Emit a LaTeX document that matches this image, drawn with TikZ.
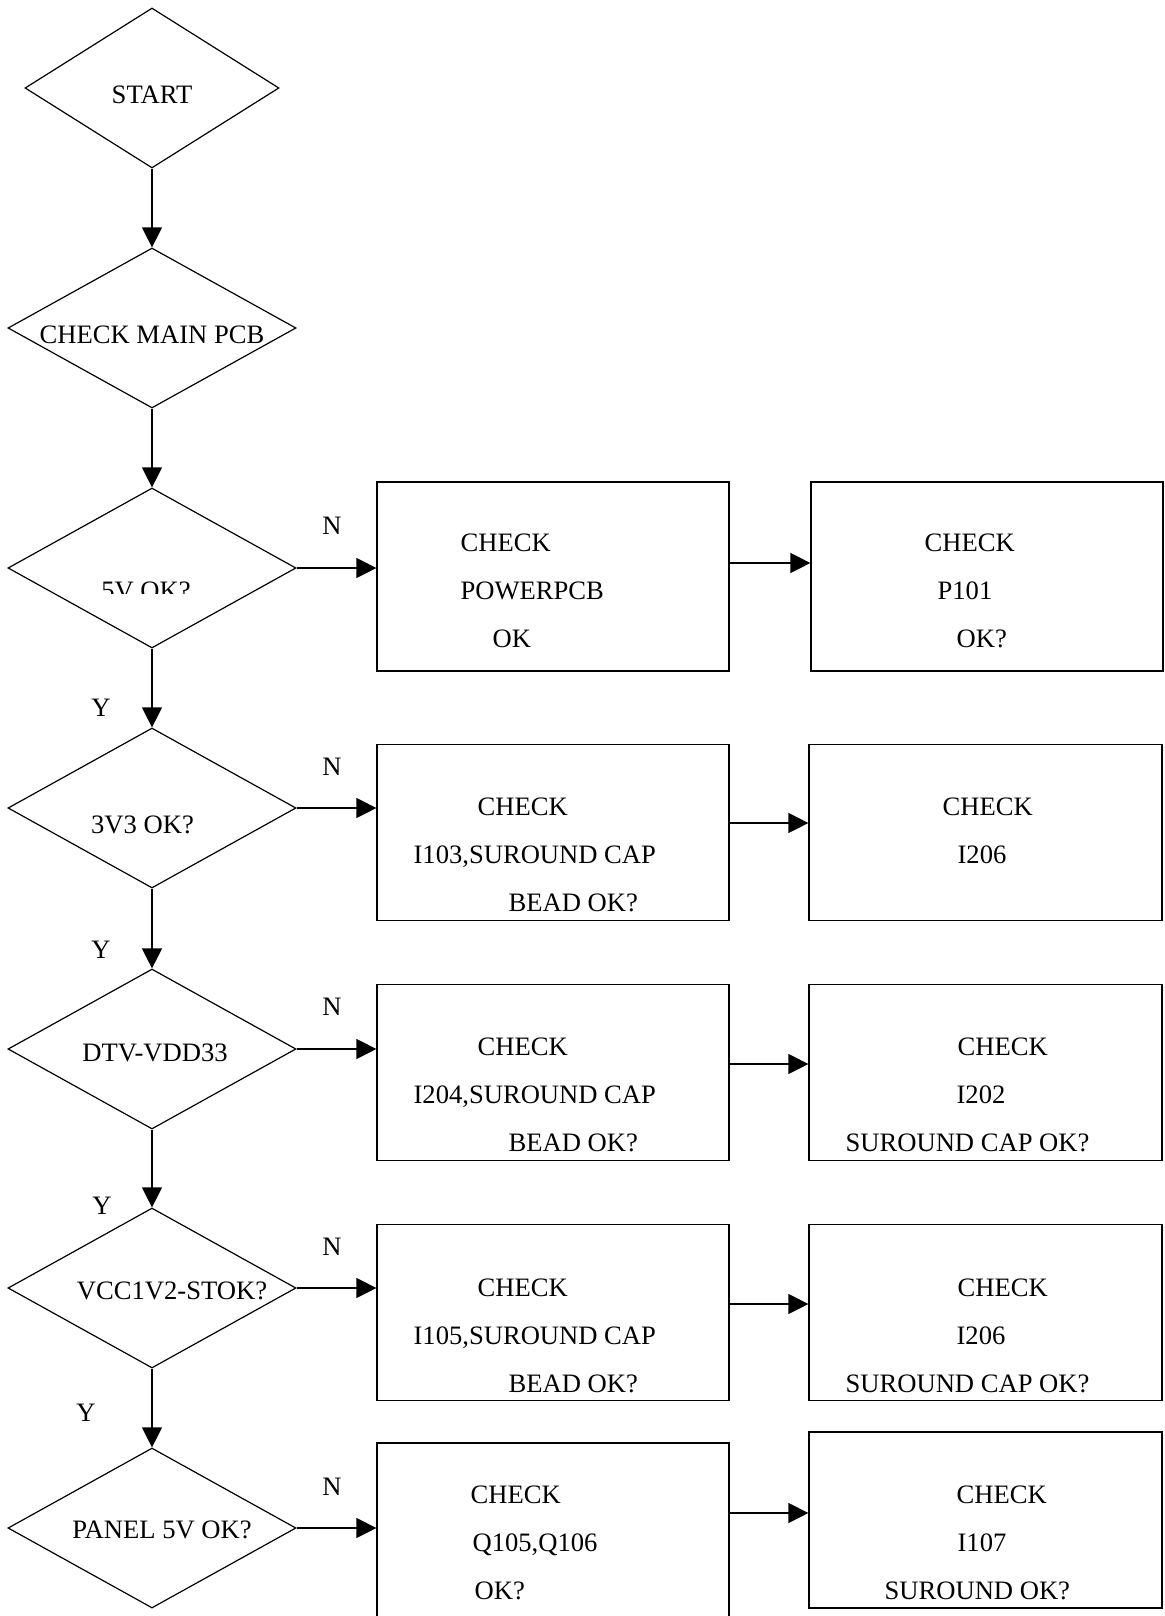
\documentclass[tikz,border=0pt]{standalone}
\usepackage{fontspec}
\setmainfont{Liberation Serif}
\usetikzlibrary{arrows.meta,shapes.geometric}

\begin{document}
\begin{tikzpicture}[x=0.5pt,y=-0.5pt,line width=0.6pt,>={Triangle[length=10pt,width=10pt]},
font=\fontsize{13.3}{24}\selectfont,
dec/.style={diamond,draw,minimum width=144pt,minimum height=80pt,inner sep=0pt},
chk/.style={rectangle,draw,minimum width=176pt,minimum height=88pt,inner sep=0pt},
txt/.style={anchor=north west,inner sep=0pt,align=left}]
\useasboundingbox (0,0) rectangle (1164,1616);
\node[dec,minimum width=127pt,label={[yshift=-3.5pt]center:START}] (start) at (152,88) {};
\node[dec,label={[yshift=-3.5pt]center:CHECK MAIN PCB}] (main) at (152,328) {};
\node[dec] (d5v) at (152,568) {};
\node[dec,label={[xshift=-4.75pt,yshift=-8.5pt]center:3V3 OK?}] (d3v3) at (152,808) {};
\node[dec,label={[xshift=1.5pt,yshift=-2pt]center:DTV-VDD33}] (ddtv) at (152,1049) {};
\node[dec,label={[xshift=10pt,yshift=-1.5pt]center:VCC1V2-STOK?}] (dvcc) at (152,1288) {};
\node[dec,label={[xshift=5pt,yshift=-1pt]center:PANEL 5V OK?}] (dpanel) at (152,1528) {};
\begin{scope}
\clip (0,0) rectangle (1164,593);
\node (t5v) at (146,591) {5V OK?};
\end{scope}
\node[chk,minimum height=94.5pt] (p1) at (553,576.5) {};
\node[chk,minimum height=94.5pt] (q1) at (987,576.5) {};
\node[chk] (p2) at (553,832.5) {};
\node[chk,minimum width=176.5pt] (q2) at (985.5,832.5) {};
\node[chk] (p3) at (553,1072.5) {};
\node[chk,minimum width=176.5pt] (q3) at (985.5,1072.5) {};
\node[chk] (p4) at (553,1312.5) {};
\node[chk,minimum width=176.5pt] (q4) at (985.5,1312.5) {};
\node[chk,minimum height=100pt] (p5) at (553,1543) {};
\node[chk,minimum width=176.5pt] (q5) at (985.5,1520) {};
\node[txt] (p1t) at (460,533) {CHECK\\POWERPCB\\\hspace*{16pt}OK};
\node[txt] (q1t) at (924,533) {CHECK\\\hspace*{6.5pt}P101\\\hspace*{16pt}OK?};
\node[txt] (p2t) at (413,797) {\hspace*{32pt}CHECK\\I103,SUROUND CAP\\\hspace*{47.5pt}BEAD OK?};
\node[txt] (q2t) at (942,797) {CHECK\\\hspace*{7.5pt}I206};
\node[txt] (p3t) at (413,1037) {\hspace*{32pt}CHECK\\I204,SUROUND CAP\\\hspace*{47.5pt}BEAD OK?};
\node[txt] (q3t) at (845,1037) {\hspace*{56pt}CHECK\\\hspace*{55.5pt}I202\\SUROUND CAP OK?};
\node[txt] (p4t) at (413,1278) {\hspace*{32pt}CHECK\\I105,SUROUND CAP\\\hspace*{47.5pt}BEAD OK?};
\node[txt] (q4t) at (845,1278) {\hspace*{56pt}CHECK\\\hspace*{55.5pt}I206\\SUROUND CAP OK?};
\node[txt] (p5t) at (470,1485) {CHECK\\\hspace*{1pt}Q105,Q106\\\hspace*{2pt}OK?};
\node[txt] (q5t) at (884,1485) {\hspace*{36pt}CHECK\\\hspace*{36.5pt}I107\\SUROUND OK?};
\node (n1) at (332,526) {N};
\node (n2) at (332,767) {N};
\node (n3) at (332,1007) {N};
\node (n4) at (332,1247) {N};
\node (n5) at (332,1487) {N};
\node (y1) at (101,708) {Y};
\node (y2) at (101,950) {Y};
\node (y3) at (102,1206) {Y};
\node (y4) at (86,1413) {Y};
\draw[->] (start.south)--(main.north);
\draw[->] (main.south)--(d5v.north);
\draw[->] (d5v.south)--(d3v3.north);
\draw[->] (d3v3.south)--(ddtv.north);
\draw[->] (ddtv.south)--(dvcc.north);
\draw[->] (dvcc.south)--(dpanel.north);
\draw[->] (d5v.east)--(d5v.east-|p1.west);
\draw[->] (d3v3.east)--(d3v3.east-|p2.west);
\draw[->] (ddtv.east)--(ddtv.east-|p3.west);
\draw[->] (dvcc.east)--(dvcc.east-|p4.west);
\draw[->] (dpanel.east)--(dpanel.east-|p5.west);
\draw[->] ([yshift=6.75pt]q1.west-|p1.east)--([yshift=6.75pt]q1.west);
\draw[->] ([yshift=4.75pt]q2.west-|p2.east)--([yshift=4.75pt]q2.west);
\draw[->] ([yshift=4.25pt]q3.west-|p3.east)--([yshift=4.25pt]q3.west);
\draw[->] ([yshift=4.25pt]q4.west-|p4.east)--([yshift=4.25pt]q4.west);
\draw[->] ([yshift=3.5pt]q5.west-|p5.east)--([yshift=3.5pt]q5.west);
\end{tikzpicture}
\end{document}
